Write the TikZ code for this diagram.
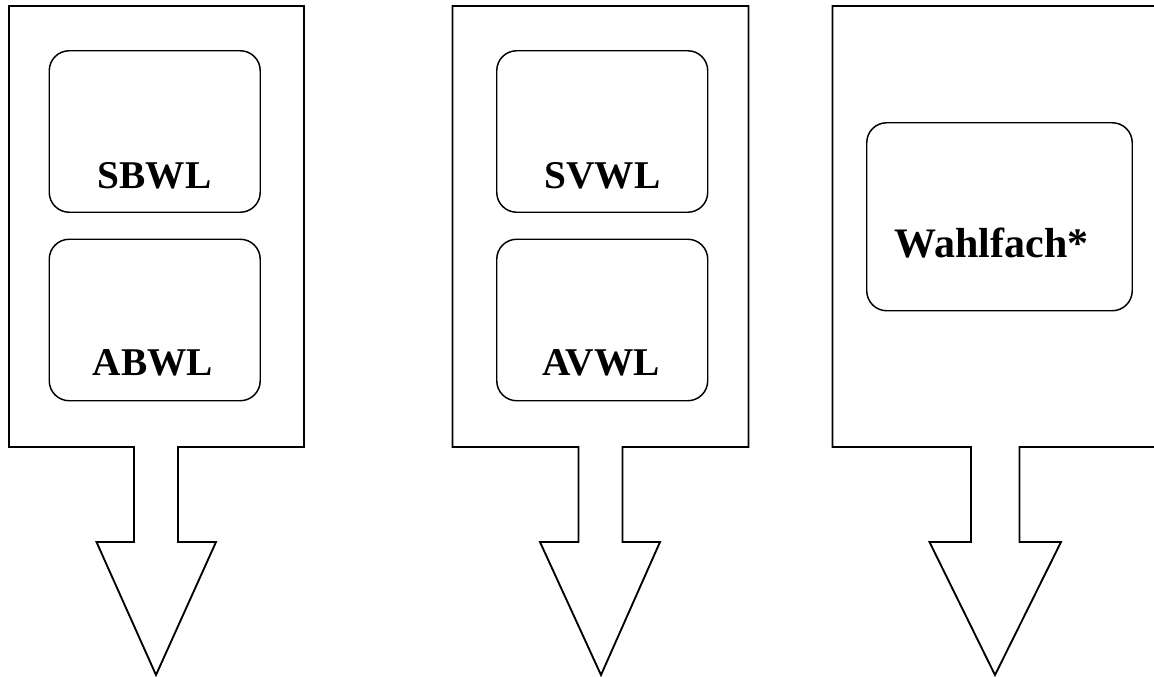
\documentclass[tikz,border=0pt]{standalone}
\usepackage{fontspec}
\setmainfont{Liberation Serif}
\begin{document}
\begin{tikzpicture}[x=0.75pt,y=-0.75pt,
  outline/.style={draw=black,line width=1.4pt,line join=miter},
  modbox/.style={draw=black,line width=1.1pt,rounded corners=15pt,
    inner sep=0pt,anchor=north west},
  modlabel/.style={anchor=base,inner sep=0pt,
    font=\fontsize{29.5}{34}\selectfont\bfseries}]
  \useasboundingbox (0,0) rectangle (1154,676);
  \begin{scope}
    \clip (0,0) rectangle (1154,676);
    % panel outlines: frame with a downward block arrow
    \draw[outline] (9,6) -- (304,6) -- (304,447) -- (178,447) -- (178,542)
      -- (216,542) -- (156,675) -- (96.5,542) -- (134,542) -- (134,447)
      -- (9,447) -- cycle;
    \draw[outline] (452.5,6) -- (748.5,6) -- (748.5,447) -- (622.5,447)
      -- (622.5,542) -- (660,542) -- (601,675) -- (540,542) -- (578.5,542)
      -- (578.5,447) -- (452.5,447) -- cycle;
    \draw[outline] (832.5,6) -- (1170,6) -- (1170,447) -- (1019.5,447)
      -- (1019.5,542) -- (1061,542) -- (995,675) -- (929.5,542) -- (971,542)
      -- (971,447) -- (832.5,447) -- cycle;
  \end{scope}
  % module boxes
  \node[modbox,minimum width=211*0.75pt,minimum height=161.5*0.75pt] (sbwl) at (48.5,50) {};
  \node[modbox,minimum width=211*0.75pt,minimum height=161.5*0.75pt] (abwl) at (48.5,238.5) {};
  \node[modbox,minimum width=211*0.75pt,minimum height=161.5*0.75pt] (svwl) at (496,50) {};
  \node[modbox,minimum width=211*0.75pt,minimum height=161.5*0.75pt] (avwl) at (496,238.5) {};
  \node[modbox,minimum width=265.5*0.75pt,minimum height=188*0.75pt] (wahl) at (866,122) {};
  % labels
  \node[modlabel] (tsbwl) at (154.5,188) {SBWL};
  \node[modlabel] (tabwl) at (153,375) {ABWL};
  \node[modlabel] (tsvwl) at (602.5,188) {SVWL};
  \node[modlabel] (tavwl) at (601,375) {AVWL};
  \node[modlabel,font=\fontsize{31.5}{37}\selectfont\bfseries] (twahl) at (991.5,257) {Wahlfach*};
\end{tikzpicture}
\end{document}
